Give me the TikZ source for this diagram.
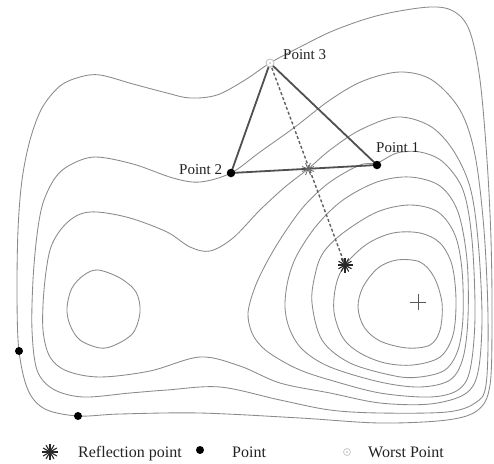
\documentclass[tikz,border=0pt]{standalone}
\usepackage{fontspec}
\setmainfont{Liberation Serif}
\definecolor{cont}{HTML}{8A8A8A}
\definecolor{tri}{HTML}{505050}
\definecolor{txt}{HTML}{222222}
\definecolor{worst}{HTML}{BDBDBD}
\begin{document}
\begin{tikzpicture}[x=1pt,y=-1pt,
  contour/.style={draw=cont,line width=0.85pt},
  triline/.style={draw=tri,line width=1.8pt},
  dashline/.style={draw=tri!90,line width=1.4pt,dash pattern=on 3pt off 2.2pt},
  dot/.style={circle,fill=black,inner sep=0pt,minimum size=8.5pt},
  smalldot/.style={circle,fill=black,inner sep=0pt,minimum size=8pt},
  worstpt/.style={circle,draw=worst,line width=0.8pt,fill=white,inner sep=0pt,minimum size=8pt},
  lbl/.style={text=txt,inner sep=0pt,font=\fontsize{15}{18}\selectfont},
  legtext/.style={text=txt,inner sep=0pt,font=\fontsize{16}{19}\selectfont},
  starline/.style={line width=1.1pt,draw=black!85},
  lightstar/.style={line width=0.8pt,draw=black!60}]
\useasboundingbox (0,0) rectangle (494,463);
\fill[white] (0,0) rectangle (494,463);

% contour lines
\draw[contour] plot[smooth cycle,tension=0.55] coordinates {
 (19,351) (17,297) (18,230) (22,180) (30,140) (42,108) (60,86) (80,77) (100,75)
 (133,84) (167,93) (190,98) (217,95) (245,80) (270,63) (300,47) (335,30) (380,15)
 (430,7) (455,12) (470,32) (480,80) (487,160) (491,240) (492,320) (490,385)
 (478,410) (447,420) (380,423) (300,418) (200,413) (120,414) (78,416) (45,409) (28,390)};
\draw[contour] plot[smooth cycle,tension=0.55] coordinates {
 (231,173) (200,182) (173,178) (133,164) (95,157) (70,165) (55,178) (43,203) (37,235)
 (33,280) (32,330) (37,370) (53,389) (83,397) (130,393) (167,390) (220,387) (280,400)
 (330,410) (380,413) (447,412) (475,403) (486,385) (488,317) (484,230) (475,155)
 (460,110) (432,80) (400,72) (363,81) (330,100) (295,127) (260,152)};
\draw[contour] plot[smooth cycle,tension=0.55] coordinates {
 (97,212) (130,218) (167,232) (190,247) (210,251) (233,238) (260,210) (285,187)
 (308,169) (330,150) (360,130) (397,117) (430,126) (453,150) (470,187) (478,240)
 (482,317) (478,372) (465,394) (430,404) (380,403) (330,393) (280,383) (240,366)
 (200,357) (150,371) (100,377) (67,371) (50,357) (43,330) (44,290) (50,250) (62,228) (78,215)};
\draw[contour] plot[smooth cycle,tension=0.55] coordinates {
 (377,163) (360,165) (330,182) (305,205) (285,232) (268,260) (255,287) (248,313)
 (252,333) (262,347) (277,358) (300,370) (330,380) (380,393) (430,397) (458,390)
 (470,370) (475,317) (472,240) (463,190) (443,162) (420,152) (397,153)};
\draw[contour] plot[smooth cycle,tension=0.55] coordinates {
 (285,307) (288,280) (297,255) (317,225) (343,200) (377,182) (410,177) (440,186)
 (458,212) (467,260) (468,317) (463,358) (450,380) (420,387) (380,382) (330,367)
 (303,350) (290,330)};
\draw[contour] plot[smooth cycle,tension=0.55] coordinates {
 (312,303) (315,275) (323,253) (343,233) (377,212) (410,205) (438,212) (455,235)
 (462,270) (463,317) (458,350) (445,370) (420,377) (395,376) (350,363) (322,340)};
\draw[contour] plot[smooth cycle,tension=0.55] coordinates {
 (345,265) (367,244) (393,233) (420,233) (440,243) (452,265) (456,300) (453,335)
 (440,357) (413,365) (385,363) (360,353) (343,338) (334,312) (336,285)};
\draw[contour] plot[smooth cycle,tension=0.55] coordinates {
 (397,260) (420,262) (434,277) (442,303) (440,330) (430,345) (407,348) (380,341)
 (364,327) (358,307) (363,287) (378,268)};
\draw[contour] plot[smooth cycle,tension=0.55] coordinates {
 (98,270) (120,278) (136,292) (140,312) (133,333) (115,345) (100,348) (80,340)
 (70,325) (67,308) (72,288) (84,275)};

% minimum marker
\coordinate (minpt) at (418,302);
\draw[draw=black!65,line width=0.8pt] (minpt) ++(-8pt,0) -- ++(16pt,0);
\draw[draw=black!65,line width=0.8pt] (minpt) ++(0,-8pt) -- ++(0,16pt);

% simplex
\coordinate (P1) at (377,165);
\coordinate (P2) at (231,173);
\coordinate (P3) at (270,63);
\coordinate (R1) at (308,169);
\coordinate (R2) at (345,265);
\draw[dashline] (P3) -- (R2);
\draw[triline,line join=round] (P3) -- (P2) -- (P1) -- cycle;

\foreach \a in {0,45,...,135} \draw[lightstar] (R1) ++(\a+22.5:6.5pt) -- ++(\a+202.5:13pt);
\foreach \a in {0,30,...,150} \draw[starline] (R2) ++(\a:7.5pt) -- ++(\a+180:15pt);

\node[dot] (p1) at (P1) {};
\node[dot] (p2) at (P2) {};
\node[worstpt] (p3) at (P3) {};
\fill[worst] (p3.center) circle (1pt);
\node[smalldot] (d1) at (19,351) {};
\node[smalldot] (d2) at (78,416) {};

\node[lbl,anchor=base west] (l3) at (283,59) {Point 3};
\node[lbl,anchor=base west] (l2) at (179,174) {Point 2};
\node[lbl,anchor=base west] (l1) at (376,152) {Point 1};

% legend
\coordinate (LS) at (50,452);
\foreach \a in {0,30,...,150} \draw[starline] (LS) ++(\a:8pt) -- ++(\a+180:16pt);
\node[legtext,anchor=base west] (lt1) at (78,457) {Reflection point};
\node[smalldot] (ld) at (200,450) {};
\node[legtext,anchor=base west] (lt2) at (232,457) {Point};
\node[worstpt,minimum size=7pt,draw=worst!80] (lw) at (347,452) {};
\fill[worst] (lw.center) circle (1pt);
\node[legtext,anchor=base west] (lt3) at (368,457) {Worst Point};
\end{tikzpicture}
\end{document}
